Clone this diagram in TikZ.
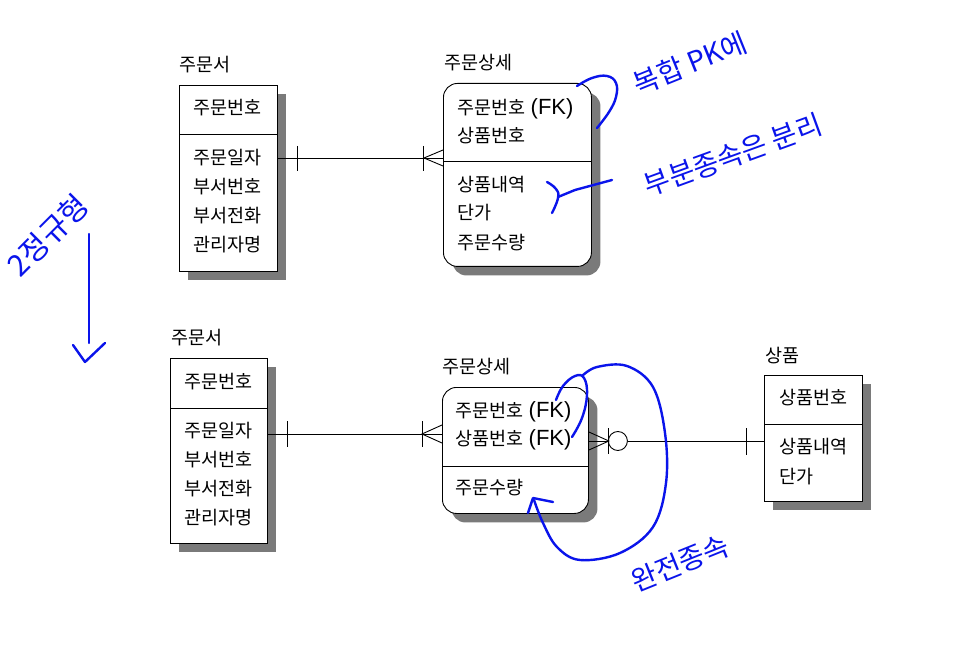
\documentclass[tikz,border=0pt]{standalone}
\usepackage{fontspec}
\newfontfamily\kr{Noto Sans CJK KR}
\newfontfamily\arf{Liberation Sans}
\usetikzlibrary{shadows,calc}
\definecolor{hand}{RGB}{10,20,235}
\begin{document}
\begin{tikzpicture}[x=1pt,y=-1pt,
  ent/.style={draw, fill=white, line width=0.9pt, inner sep=0, anchor=north west,
    drop shadow={shadow xshift=9pt, shadow yshift=-9pt, fill=black!52, opacity=1}},
  rent/.style={ent, rounded corners=14pt},
  lbl/.style={font=\kr\fontsize{18.5}{21}\selectfont, anchor=west, inner sep=0},
  fk/.style={font=\arf\fontsize{22}{25}\selectfont, anchor=base west, inner sep=0},
  rel/.style={line width=0.9pt},
  hw/.style={draw=hand, line width=2.4pt, line cap=round, line join=round},
  hwt/.style={text=hand, font=\kr\fontsize{28}{31}\selectfont, inner sep=0}
]
\useasboundingbox[fill=white] (0,0) rectangle (970,647);

% ---------- top: 주문서 ----------
\node[lbl] (o1t) at (179,65) {주문서};
\node[ent, minimum width=98, minimum height=186] (o1) at (179,85) {};
\draw[rel] (o1.north west) ++(0,49) -- ++(98,0);
\node[lbl] (o1k) at (193,108) {주문번호};
\node[lbl] (o1a1) at (193,158) {주문일자};
\node[lbl] (o1a2) at (193,187) {부서번호};
\node[lbl] (o1a3) at (193,216) {부서전화};
\node[lbl] (o1a4) at (193,245) {관리자명};

% ---------- top: 주문상세 ----------
\node[lbl] (d1t) at (444,63) {주문상세};
\node[rent, minimum width=148, minimum height=183] (d1) at (443,83) {};
\draw[rel] (d1.north west) ++(0,78) -- ++(148,0);
\node[lbl] (d1k1) at (457,108) {주문번호};
\node[fk] (d1f1) at ($(d1k1.base east)+(5,0)$) {(FK)};
\node[lbl] (d1k2) at (457,136) {상품번호};
\node[lbl] (d1a1) at (457,185) {상품내역};
\node[lbl] (d1a2) at (457,213) {단가};
\node[lbl] (d1a3) at (457,243) {주문수량};

% top relationship
\coordinate (r1a) at (o1.east |- 0,158);
\coordinate (r1b) at (d1.west |- 0,158);
\draw[rel] (r1a) -- (r1b);
\draw[rel] ($(r1a)+(20,-12)$) -- ($(r1a)+(20,13)$);
\draw[rel] ($(r1b)+(-20,-12)$) -- ($(r1b)+(-20,13)$);
\draw[rel] ($(r1b)+(0,-8)$) -- ($(r1b)+(-19,0)$) -- ($(r1b)+(0,8)$);

% ---------- bottom: 주문서 ----------
\node[lbl] (o2t) at (171,338) {주문서};
\node[ent, minimum width=97, minimum height=185] (o2) at (170,358) {};
\draw[rel] (o2.north west) ++(0,50) -- ++(97,0);
\node[lbl] (o2k) at (184,382) {주문번호};
\node[lbl] (o2a1) at (184,431) {주문일자};
\node[lbl] (o2a2) at (184,460) {부서번호};
\node[lbl] (o2a3) at (184,489) {부서전화};
\node[lbl] (o2a4) at (184,518) {관리자명};

% ---------- bottom: 주문상세 ----------
\node[lbl] (d2t) at (442,367) {주문상세};
\node[rent, minimum width=146, minimum height=126] (d2) at (442,387) {};
\draw[rel] (d2.north west) ++(0,79) -- ++(146,0);
\node[lbl] (d2k1) at (455,411) {주문번호};
\node[fk] (d2f1) at ($(d2k1.base east)+(5,0)$) {(FK)};
\node[lbl] (d2k2) at (455,439) {상품번호};
\node[fk] (d2f2) at ($(d2k2.base east)+(5,0)$) {(FK)};
\node[lbl] (d2a1) at (455,488) {주문수량};

% ---------- bottom: 상품 ----------
\node[lbl] (pt) at (765,356) {상품};
\node[ent, minimum width=98, minimum height=126] (p) at (764,375) {};
\draw[rel] (p.north west) ++(0,49) -- ++(98,0);
\node[lbl] (pk) at (779,398) {상품번호};
\node[lbl] (pa1) at (779,447) {상품내역};
\node[lbl] (pa2) at (779,477) {단가};

% bottom-left relationship
\coordinate (r2a) at (o2.east |- 0,434);
\coordinate (r2b) at (d2.west |- 0,434);
\draw[rel] (r2a) -- (r2b);
\draw[rel] ($(r2a)+(20,-13)$) -- ($(r2a)+(20,13)$);
\draw[rel] ($(r2b)+(-20,-13)$) -- ($(r2b)+(-20,13)$);
\draw[rel] ($(r2b)+(0,-9)$) -- ($(r2b)+(-20,0)$) -- ($(r2b)+(0,9)$);

% bottom-right relationship
\coordinate (r3a) at (d2.east |- 0,441);
\coordinate (r3b) at (p.west |- 0,441);
\node[draw, circle, line width=0.9pt, minimum size=19, inner sep=0] (r3c) at ($(r3a)+(29,0)$) {};
\draw[rel] (r3a) -- ($(r3a)+(20,0)$);
\draw[rel] (r3c) -- (r3b);
\draw[rel] ($(r3a)+(0,-9)$) -- ($(r3a)+(20,0)$) -- ($(r3a)+(0,9)$);
\draw[rel] ($(r3a)+(20,-13)$) -- ($(r3a)+(20,13)$);
\draw[rel] ($(r3b)+(-18,-13)$) -- ($(r3b)+(-18,14)$);

% ---------- handwriting ----------
% 복합 PK
\draw[hw] plot[smooth, tension=0.7] coordinates {(577,86) (592,78) (607,76) (616,83) (616,97) (609,112) (597,128)};
\node[hwt, rotate=22] (h1) at (690,63) {복합 PK에};
% 부분종속
\draw[hw] plot[smooth, tension=0.8] coordinates {(547,182) (556,189) (558,198) (552,213)};
\draw[hw] (558,197) -- (575,190) -- (612,180);
\node[hwt, rotate=20] (h2) at (733,155) {부분종속은 분리};
% 2정규형
\node[hwt, rotate=45, font=\kr\fontsize{30}{33}\selectfont] (h3) at (48,235) {2정규형};
\draw[hw] (89,234) -- (89,343);
\draw[hw] (73,345) -- (85,362) -- (105,343);
% 완전종속
\draw[hw] plot[smooth, tension=0.7] coordinates {(556,400) (563,386) (575,376) (584,378) (587,395) (582,418) (572,437)};
\draw[hw] plot[smooth, tension=0.6] coordinates {(582,376) (597,367) (627,366) (653,387) (665,433) (666,483) (653,527) (620,553) (580,560) (557,547) (543,523) (534,500)};
\draw[hw] (528,513) -- (533,498) -- (553,502);
\node[hwt, rotate=22] (h4) at (680,563) {완전종속};
\end{tikzpicture}
\end{document}
